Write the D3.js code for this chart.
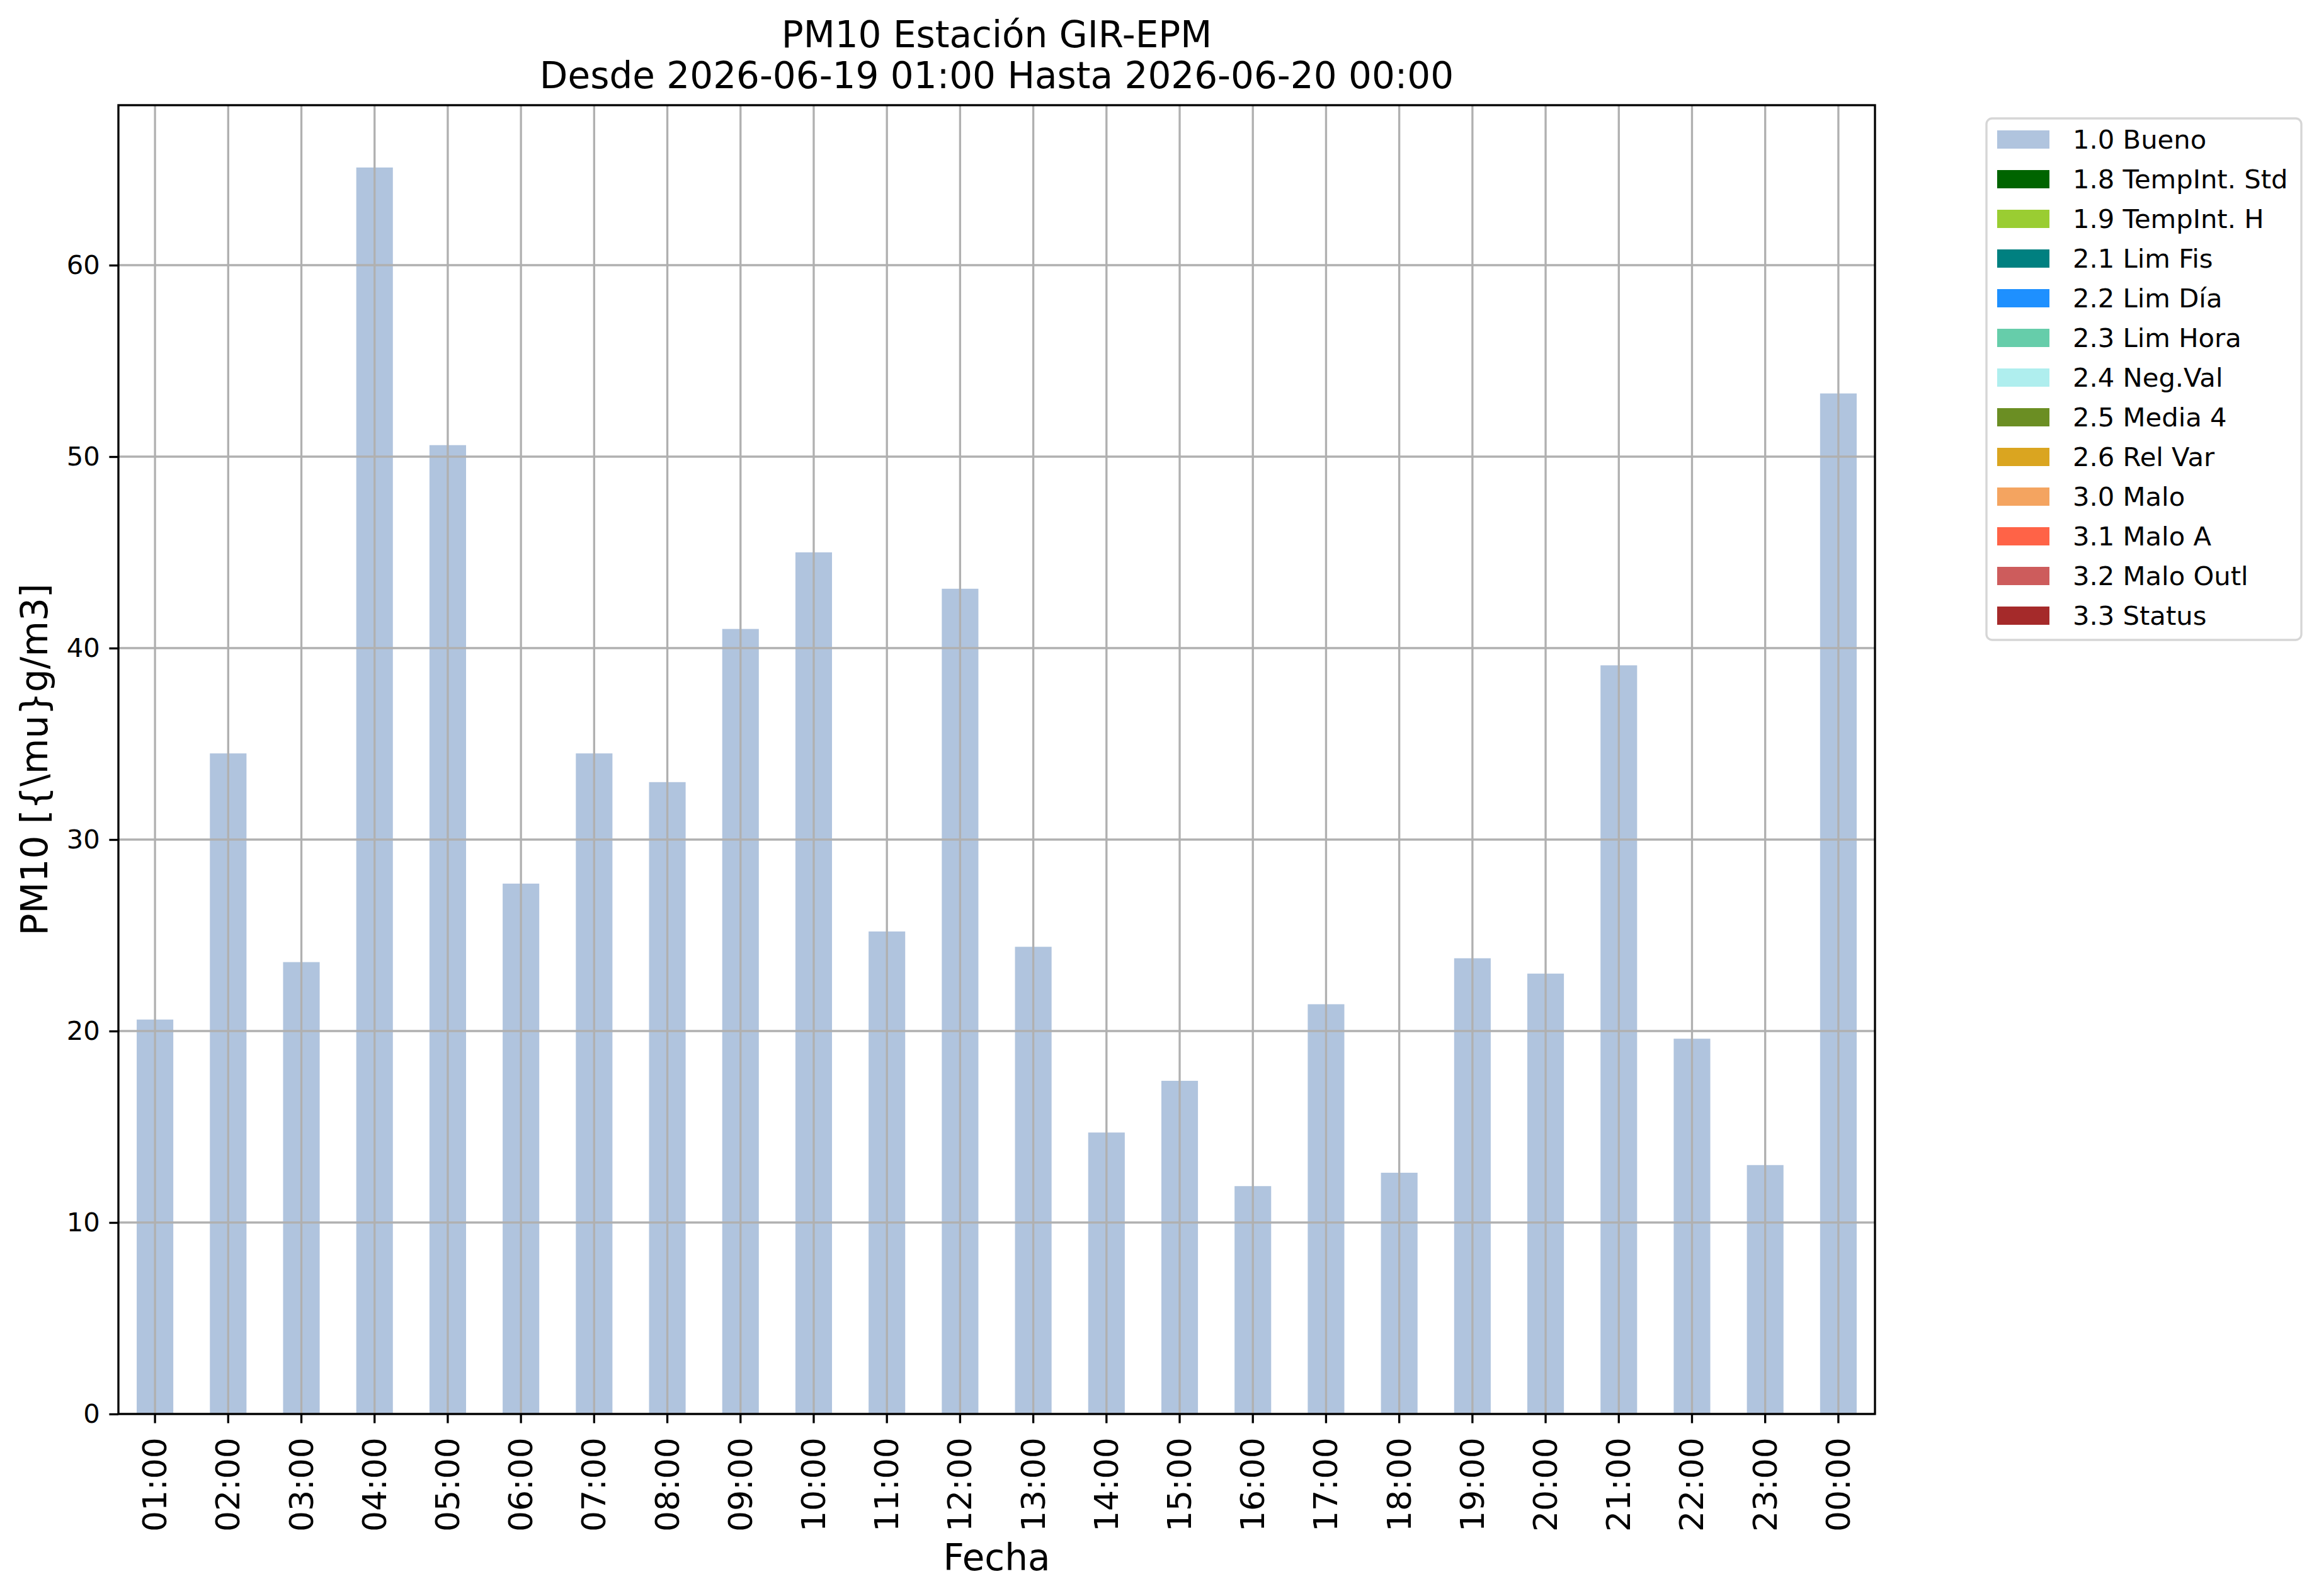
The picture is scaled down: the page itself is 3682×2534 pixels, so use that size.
<!DOCTYPE html>
<html>
<head>
<meta charset="utf-8">
<script src="https://cdn.jsdelivr.net/npm/d3@7"></script>
<style>
  html, body { margin: 0; padding: 0; background: #ffffff; }
  svg { display: block; }
  text { font-family: "DejaVu Sans", sans-serif; fill: #000; }
</style>
</head>
<body>
<script>
// ---------- data ----------
const hours = ["01:00","02:00","03:00","04:00","05:00","06:00","07:00","08:00",
               "09:00","10:00","11:00","12:00","13:00","14:00","15:00","16:00",
               "17:00","18:00","19:00","20:00","21:00","22:00","23:00","00:00"];
const buenoValues = [20.6, 34.5, 23.6, 65.1, 50.6, 27.7, 34.5, 33.0,
                     41.0, 45.0, 25.2, 43.1, 24.4, 14.7, 17.4, 11.9,
                     21.4, 12.6, 23.8, 23.0, 39.1, 19.6, 13.0, 53.3];
const flagNames = ["1.0 Bueno","1.8 TempInt. Std","1.9 TempInt. H","2.1 Lim Fis","2.2 Lim Día",
                   "2.3 Lim Hora","2.4 Neg.Val","2.5 Media 4","2.6 Rel Var","3.0 Malo",
                   "3.1 Malo A","3.2 Malo Outl","3.3 Status"];
const flagColors = ["#b0c4de","#006400","#9acd32","#008080","#1e90ff",
                    "#66cdaa","#afeeee","#6b8e23","#daa520","#f4a460",
                    "#ff6347","#cd5c5c","#a52a2a"];
const yTicks = [0, 10, 20, 30, 40, 50, 60];
const titleLines = ["PM10 Estación GIR-EPM", "Desde 2026-06-19 01:00 Hasta 2026-06-20 00:00"];
const xLabel = "Fecha";
const yLabel = "PM10 [{\\mu}g/m3]";

// ---------- layout ----------
const W = 3682, H = 2534;
const L = 188, R = 2977, T = 167, B = 2245;
const lw = 3.33;
const tickLen = 14.6, tickPad = 14.6;
const fsSmall = 41.7, fsTick = 52, fsBig = 58;

const svg = d3.select("body").append("svg")
  .attr("width", W).attr("height", H)
  .attr("viewBox", `0 0 ${W} ${H}`);
svg.append("rect").attr("width", W).attr("height", H).attr("fill", "#fff");

const x = d3.scaleBand().domain(hours).range([L, R]).paddingInner(0.5).paddingOuter(0.25);
const yMax = d3.max(buenoValues) * 1.05;
const y = d3.scaleLinear().domain([0, yMax]).range([B, T]);

// bars
svg.append("g").selectAll("rect")
  .data(hours.map((h, i) => ({h, v: buenoValues[i]})))
  .join("rect")
  .attr("x", d => x(d.h))
  .attr("width", x.bandwidth())
  .attr("y", d => y(d.v))
  .attr("height", d => B - y(d.v))
  .attr("fill", flagColors[0]);

// grid (on top of bars)
const grid = svg.append("g").attr("stroke", "#b0b0b0").attr("stroke-width", lw);
grid.selectAll("line.h").data(yTicks).join("line").attr("class", "h")
  .attr("x1", L).attr("x2", R).attr("y1", d => y(d)).attr("y2", d => y(d));
grid.selectAll("line.v").data(hours).join("line").attr("class", "v")
  .attr("x1", d => x(d) + x.bandwidth() / 2).attr("x2", d => x(d) + x.bandwidth() / 2)
  .attr("y1", T).attr("y2", B);

// y axis
const yAxis = svg.append("g").attr("transform", `translate(${L},0)`)
  .call(d3.axisLeft(y).tickValues(yTicks).tickFormat(d3.format("d"))
        .tickSize(tickLen).tickPadding(tickPad));
yAxis.select(".domain").remove();
yAxis.selectAll(".tick line").attr("stroke", "#000").attr("stroke-width", lw);
yAxis.selectAll(".tick text").attr("font-size", fsSmall)
  .attr("font-family", "DejaVu Sans").attr("fill", "#000");

// x axis
const xAxis = svg.append("g").attr("transform", `translate(0,${B})`)
  .call(d3.axisBottom(x).tickSize(tickLen).tickPadding(tickPad));
xAxis.select(".domain").remove();
xAxis.selectAll(".tick line").attr("stroke", "#000").attr("stroke-width", lw);
xAxis.selectAll(".tick text")
  .attr("font-size", fsTick).attr("font-family", "DejaVu Sans").attr("fill", "#000")
  .attr("text-anchor", "end")
  .attr("dy", null)
  .attr("dominant-baseline", "central")
  .attr("transform", `translate(0,${tickLen + tickPad + 8}) rotate(-90)`)
  .attr("x", 0).attr("y", 0);

// spines
svg.append("rect").attr("x", L).attr("y", T).attr("width", R - L).attr("height", B - T)
  .attr("fill", "none").attr("stroke", "#000").attr("stroke-width", lw);

// titles
svg.append("g").selectAll("text").data(titleLines).join("text")
  .attr("x", (L + R) / 2).attr("y", (d, i) => 75 + i * 65)
  .attr("text-anchor", "middle").attr("font-size", fsBig).text(d => d);

svg.append("text").attr("x", (L + R) / 2).attr("y", 2493)
  .attr("text-anchor", "middle").attr("font-size", fsBig).text(xLabel);

svg.append("text").attr("transform", `translate(75,${(T + B) / 2}) rotate(-90)`)
  .attr("text-anchor", "middle").attr("font-size", fsBig).text(yLabel);

// legend
const lg = svg.append("g");
lg.append("rect").attr("x", 3154).attr("y", 188).attr("width", 500).attr("height", 828)
  .attr("rx", 9).attr("fill", "#fff").attr("stroke", "#d6d6d6").attr("stroke-width", lw);
const rows = lg.selectAll("g.row").data(flagNames).join("g").attr("class", "row")
  .attr("transform", (d, i) => `translate(0,${i * 63})`);
rows.append("rect").attr("x", 3171).attr("y", 207).attr("width", 83).attr("height", 29)
  .attr("fill", (d, i) => flagColors[i]);
rows.append("text").attr("x", 3291).attr("y", 236).attr("font-size", fsSmall).text(d => d);
</script>
</body>
</html>
